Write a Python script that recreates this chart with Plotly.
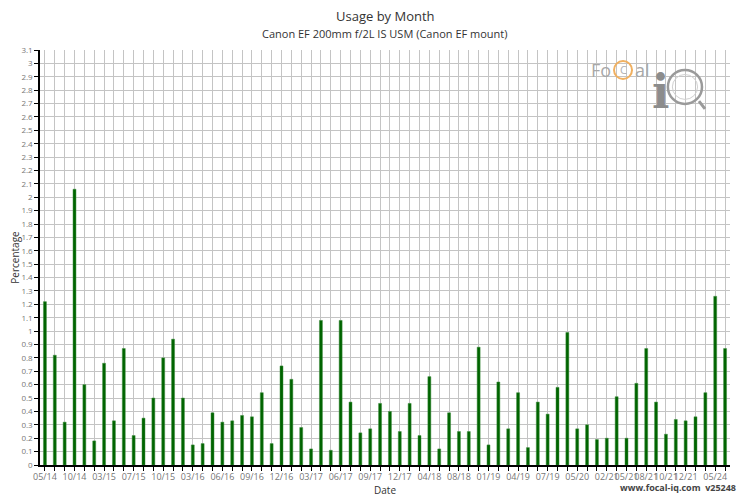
import plotly.graph_objects as go

# Months with data (category axis); labels shown only on some of them
months = [
    "05/14", "06/14", "08/14", "10/14", "11/14", "01/15", "03/15", "04/15", "06/15", "07/15",
    "08/15", "09/15", "10/15", "12/15", "01/16", "03/16", "04/16", "05/16", "06/16", "07/16",
    "08/16", "09/16", "10/16", "11/16", "12/16", "01/17", "02/17", "03/17", "04/17", "05/17",
    "06/17", "07/17", "08/17", "09/17", "10/17", "11/17", "12/17", "01/18", "03/18", "04/18",
    "05/18", "07/18", "08/18", "10/18", "12/18", "01/19", "02/19", "03/19", "04/19", "05/19",
    "06/19", "07/19", "09/19", "11/19", "05/20", "08/20", "11/20", "02/21", "03/21", "05/21",
    "07/21", "08/21", "09/21", "10/21", "11/21", "12/21", "02/22", "09/23", "05/24", "07/24",
]
usage = [
    1.22, 0.82, 0.32, 2.06, 0.60, 0.18, 0.76, 0.33, 0.87, 0.22,
    0.35, 0.50, 0.80, 0.94, 0.50, 0.15, 0.16, 0.39, 0.32, 0.33,
    0.37, 0.36, 0.54, 0.16, 0.74, 0.64, 0.28, 0.12, 1.08, 0.11,
    1.08, 0.47, 0.24, 0.27, 0.46, 0.40, 0.25, 0.46, 0.22, 0.66,
    0.12, 0.39, 0.25, 0.25, 0.88, 0.15, 0.62, 0.27, 0.54, 0.13,
    0.47, 0.38, 0.58, 0.99, 0.27, 0.30, 0.19, 0.20, 0.51, 0.20,
    0.61, 0.87, 0.47, 0.23, 0.34, 0.33, 0.36, 0.54, 1.26, 0.87,
]
shown_labels = ["05/14", "10/14", "03/15", "07/15", "10/15", "03/16", "06/16", "09/16",
                "12/16", "03/17", "06/17", "09/17", "12/17", "04/18", "08/18", "01/19",
                "04/19", "07/19", "05/20", "02/21", "05/21", "08/21", "10/21", "12/21", "05/24"]

y_ticks = [round(i * 0.1, 1) for i in range(32)]
y_text = [("%g" % v) for v in y_ticks]

font = "Open Sans, Noto Sans, sans-serif"

fig = go.Figure()
fig.add_trace(go.Bar(
    x=months, y=usage,
    marker=dict(color="#006400", line=dict(color="#3c8c3c", width=0.5)),
    hoverinfo="x+y",
))

ticktext = [m if m in shown_labels else "" for m in months]

# page body has an 8px default margin, so the figure is sized to fit the window
fig.update_layout(
    width=742, height=492,
    margin=dict(l=32, r=20, t=42, b=35, autoexpand=False),
    paper_bgcolor="white", plot_bgcolor="white",
    bargap=0.7,
    showlegend=False,
    font=dict(family=font, color="#666666", size=9),
    xaxis=dict(
        type="category", automargin=False,
        tickmode="array", tickvals=months, ticktext=ticktext,
        tickangle=0,
        range=[-0.5, len(months) - 0.5],
        showgrid=True, gridcolor="#c4c4c4", gridwidth=1,
        showline=True, linecolor="black", linewidth=1.5,
        ticks="outside", ticklen=4, tickcolor="black", tickwidth=1,
        ticklabelstandoff=-2,
        tickfont=dict(size=9, color="#777777"),
        title=dict(text="Date", font=dict(size=10, color="#333333"), standoff=2),
        zeroline=False,
    ),
    yaxis=dict(
        range=[0, 3.1], automargin=False,
        tickmode="array", tickvals=y_ticks, ticktext=y_text,
        showgrid=True, gridcolor="#c4c4c4", gridwidth=1,
        showline=True, linecolor="black", linewidth=1.5,
        ticks="outside", ticklen=4, tickcolor="black", tickwidth=1,
        tickfont=dict(size=8, color="#777777"),
        title=dict(text="Percentage", font=dict(size=10, color="#333333"), standoff=4),
        zeroline=False,
    ),
)

fig.add_annotation(text="Usage by Month", xref="paper", yref="paper",
                   x=0.5, y=1, yanchor="middle", yshift=34, showarrow=False,
                   font=dict(family=font, size=13, color="#333333"))
fig.add_annotation(text="Canon EF 200mm f/2L IS USM (Canon EF mount)", xref="paper", yref="paper",
                   x=0.5, y=1, yanchor="middle", yshift=17, showarrow=False,
                   font=dict(family=font, size=11, color="#333333"))
fig.add_annotation(text="<b>www.focal-iq.com  v25248</b>", xref="paper", yref="paper",
                   x=1, y=0, xanchor="right", yanchor="middle", yshift=-22, xshift=8,
                   showarrow=False,
                   font=dict(family=font, size=9, color="#444444"))

# Logo approximation (FoCal iQ)
fig.add_annotation(text="Fo", xref="paper", yref="paper", x=0.8304, y=0.952,
                   xanchor="right", yanchor="middle", showarrow=False,
                   font=dict(family=font, size=18, color="#a8a8a8"))
fig.add_annotation(text="C", xref="paper", yref="paper", x=0.845, y=0.952,
                   xanchor="center", yanchor="middle", showarrow=False,
                   font=dict(family=font, size=11, color="#b0b0b0"))
fig.add_annotation(text="al", xref="paper", yref="paper", x=0.8594, y=0.952,
                   xanchor="left", yanchor="middle", showarrow=False,
                   font=dict(family=font, size=18, color="#a8a8a8"))
fig.add_shape(type="circle", xref="paper", yref="paper",
              x0=0.8319, x1=0.858, y0=0.930, y1=0.9735,
              line=dict(color="#f0b060", width=2))
fig.add_annotation(text="<b>i</b>", xref="paper", yref="paper", x=0.8986, y=0.900,
                   xanchor="center", yanchor="middle", showarrow=False,
                   font=dict(family="DejaVu Serif, serif", size=46, color="#8c8c8c"))
fig.add_shape(type="circle", xref="paper", yref="paper",
              x0=0.910, x1=0.9594, y0=0.870, y1=0.952,
              line=dict(color="#9a9a9a", width=2.5))
fig.add_shape(type="circle", xref="paper", yref="paper",
              x0=0.9165, x1=0.953, y0=0.881, y1=0.941,
              line=dict(color="#d0d0d0", width=1))
fig.add_shape(type="line", xref="paper", yref="paper",
              x0=0.955, x1=0.9638, y0=0.877, y1=0.858,
              line=dict(color="#9a9a9a", width=3))

fig.write_html("out.html")
